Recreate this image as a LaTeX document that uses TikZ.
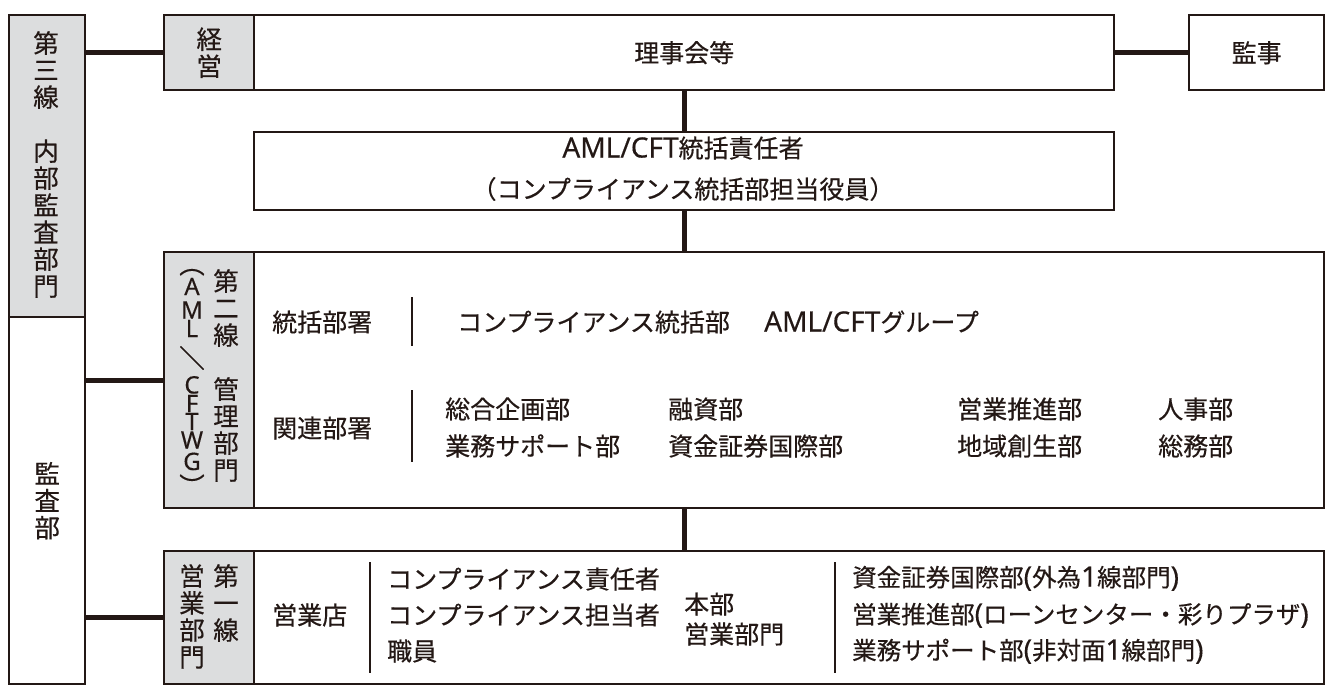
\documentclass[tikz,border=0pt]{standalone}
\usepackage{fontspec}
\setmainfont{Noto Sans CJK JP}[FakeBold=0.4]
\newfontfamily\latinf{Noto Sans}[FakeBold=0.3]
\usepackage{graphicx}
\definecolor{ink}{HTML}{231815}
\definecolor{gfill}{HTML}{DCDDDE}
\newcommand\latn[1]{{\latinf\fontsize{28}{28}\selectfont #1}}
\begin{document}
\begin{tikzpicture}[x=1pt,y=-1pt,
  box/.style={draw=ink, line width=2.4pt, inner sep=0pt, anchor=north west},
  gbox/.style={box, fill=gfill},
  wbox/.style={box, fill=white},
  conn/.style={draw=ink, line width=5pt},
  sepline/.style={draw=ink, line width=1.5pt},
  txt/.style={text=ink, inner sep=0pt, text height=22pt, text depth=3pt, font=\fontsize{25}{27}\selectfont},
  txts/.style={txt, font=\fontsize{24.5}{27}\selectfont},
  vtxt/.style={text=ink, inner sep=0pt, align=center, font=\fontsize{25.5}{27}\selectfont},
  vlat/.style={text=ink, inner sep=0pt, text height=17pt, text depth=0pt, font=\latinf\fontsize{24}{24}\selectfont}
]
\useasboundingbox (0,0) rectangle (1327,686);
% left column
\node[gbox, minimum width=76pt, minimum height=302pt] (l3) at (8,14) {};
\node[wbox, minimum width=76pt, minimum height=367pt] (la) at (8,316) {};
% top row
\node[gbox, minimum width=90pt, minimum height=75pt] (keiei) at (163,14) {};
\node[wbox, minimum width=860pt, minimum height=75pt] (riji) at (253,14) {};
\node[wbox, minimum width=135pt, minimum height=75pt] (kanji) at (1188,14) {};
% AML box
\node[wbox, minimum width=860pt, minimum height=78pt] (aml) at (253,131) {};
% second line
\node[gbox, minimum width=90pt, minimum height=256pt] (l2g) at (163,251) {};
\node[wbox, minimum width=1070pt, minimum height=256pt] (l2) at (253,251) {};
% first line
\node[gbox, minimum width=90pt, minimum height=133pt] (l1g) at (163,550) {};
\node[wbox, minimum width=1070pt, minimum height=133pt] (l1) at (253,550) {};

% connectors
\draw[conn] (keiei.west -| l3.east) -- (keiei.west);
\draw[conn] (riji.east) -- (kanji.west);
\draw[conn] (riji.south) -- (riji.south |- aml.north);
\draw[conn] (riji.south |- aml.south) -- (riji.south |- l2.north);
\draw[conn] (riji.south |- l2.south) -- (riji.south |- l1.north);
\draw[conn] (l2g.west -| la.east) -- (l2g.west);
\draw[conn] (l1g.west -| la.east) -- (l1g.west);

% vertical texts
\node[vtxt] (t3) at (46,164.5) {第\\三\\線\\\phantom{線}\\内\\部\\監\\査\\部\\門};
\node[vtxt] (ta) at (la.center) {監\\査\\部};
\node[vtxt] (tk) at (keiei.center) {経\\営};
\node[vtxt, anchor=north] (t2r) at (226,269) {第\\二\\線\\\phantom{線}\\管\\理\\部\\門};
\node[vtxt, anchor=north] (t1r) at (226,564) {第\\一\\線};
\node[vtxt, anchor=north] (t1l) at (192,564) {営\\業\\部\\門};
\node[vtxt] (v1) at (192,264) {\rotatebox{-90}{（}};
\node[vlat] (v2) at (192,286.5) {A};
\node[vlat] (v3) at (192,310) {M};
\node[vlat] (v4) at (192,328.5) {L};
\node[vtxt] (v5) at (192,358) {\rotatebox{-90}{／}};
\node[vlat] (v6) at (192,385) {C};
\node[vlat] (v7) at (192,403.5) {F};
\node[vlat] (v8) at (192,421.5) {T};
\node[vlat] (v9) at (192,440) {W};
\node[vlat] (v10) at (192,461.5) {G};
\node[vtxt] (v11) at (192,486) {\rotatebox{-90}{）}};

% top texts
\node[txt] (tr) at (riji.center) {理事会等};
\node[txt] (tkj) at (kanji.center) {監事};
\node[txt] (am1) at (683,148) {\latn{AML/CFT}統括責任者};
\node[txt] (am2) at (683,189) {（コンプライアンス統括部担当役員）};

% second line contents
\node[txt, anchor=west] (s1) at (272,322) {統括部署};
\draw[sepline] (412,297) -- (412,346);
\node[txt, anchor=west] (s2) at (457,322) {コンプライアンス統括部};
\node[txt, anchor=west] (s3) at (764,322) {\latn{AML/CFT}グループ};
\node[txt, anchor=west] (r0) at (272,428) {関連部署};
\draw[sepline] (412,390) -- (412,462);
\node[txt, anchor=west] (r1) at (445,409) {総合企画部};
\node[txt, anchor=west] (r2) at (445,446) {業務サポート部};
\node[txt, anchor=west] (r3) at (668,409) {融資部};
\node[txt, anchor=west] (r4) at (668,446) {資金証券国際部};
\node[txt, anchor=west] (r5) at (957,409) {営業推進部};
\node[txt, anchor=west] (r6) at (957,446) {地域創生部};
\node[txt, anchor=west] (r7) at (1158,409) {人事部};
\node[txt, anchor=west] (r8) at (1158,446) {総務部};

% first line contents
\node[txt, anchor=west] (f0) at (272,615) {営業店};
\draw[sepline] (370,562) -- (370,673);
\node[txt, anchor=west] (f1) at (387,579) {コンプライアンス責任者};
\node[txt, anchor=west] (f2) at (387,615) {コンプライアンス担当者};
\node[txt, anchor=west] (f3) at (387,651) {職員};
\node[txt, anchor=west] (f4) at (684,604) {本部};
\node[txt, anchor=west] (f5) at (684,634) {営業部門};
\draw[sepline] (835,562) -- (835,673);
\node[txts, anchor=west] (f6) at (852,577) {資金証券国際部\latn{(}外為\latn{1}線部門\latn{)}};
\node[txts, anchor=west] (f7) at (852,614) {営業推進部\latn{(}ローンセンター・彩りプラザ\latn{)}};
\node[txts, anchor=west] (f8) at (852,650) {業務サポート部\latn{(}非対面\latn{1}線部門\latn{)}};
\end{tikzpicture}
\end{document}
